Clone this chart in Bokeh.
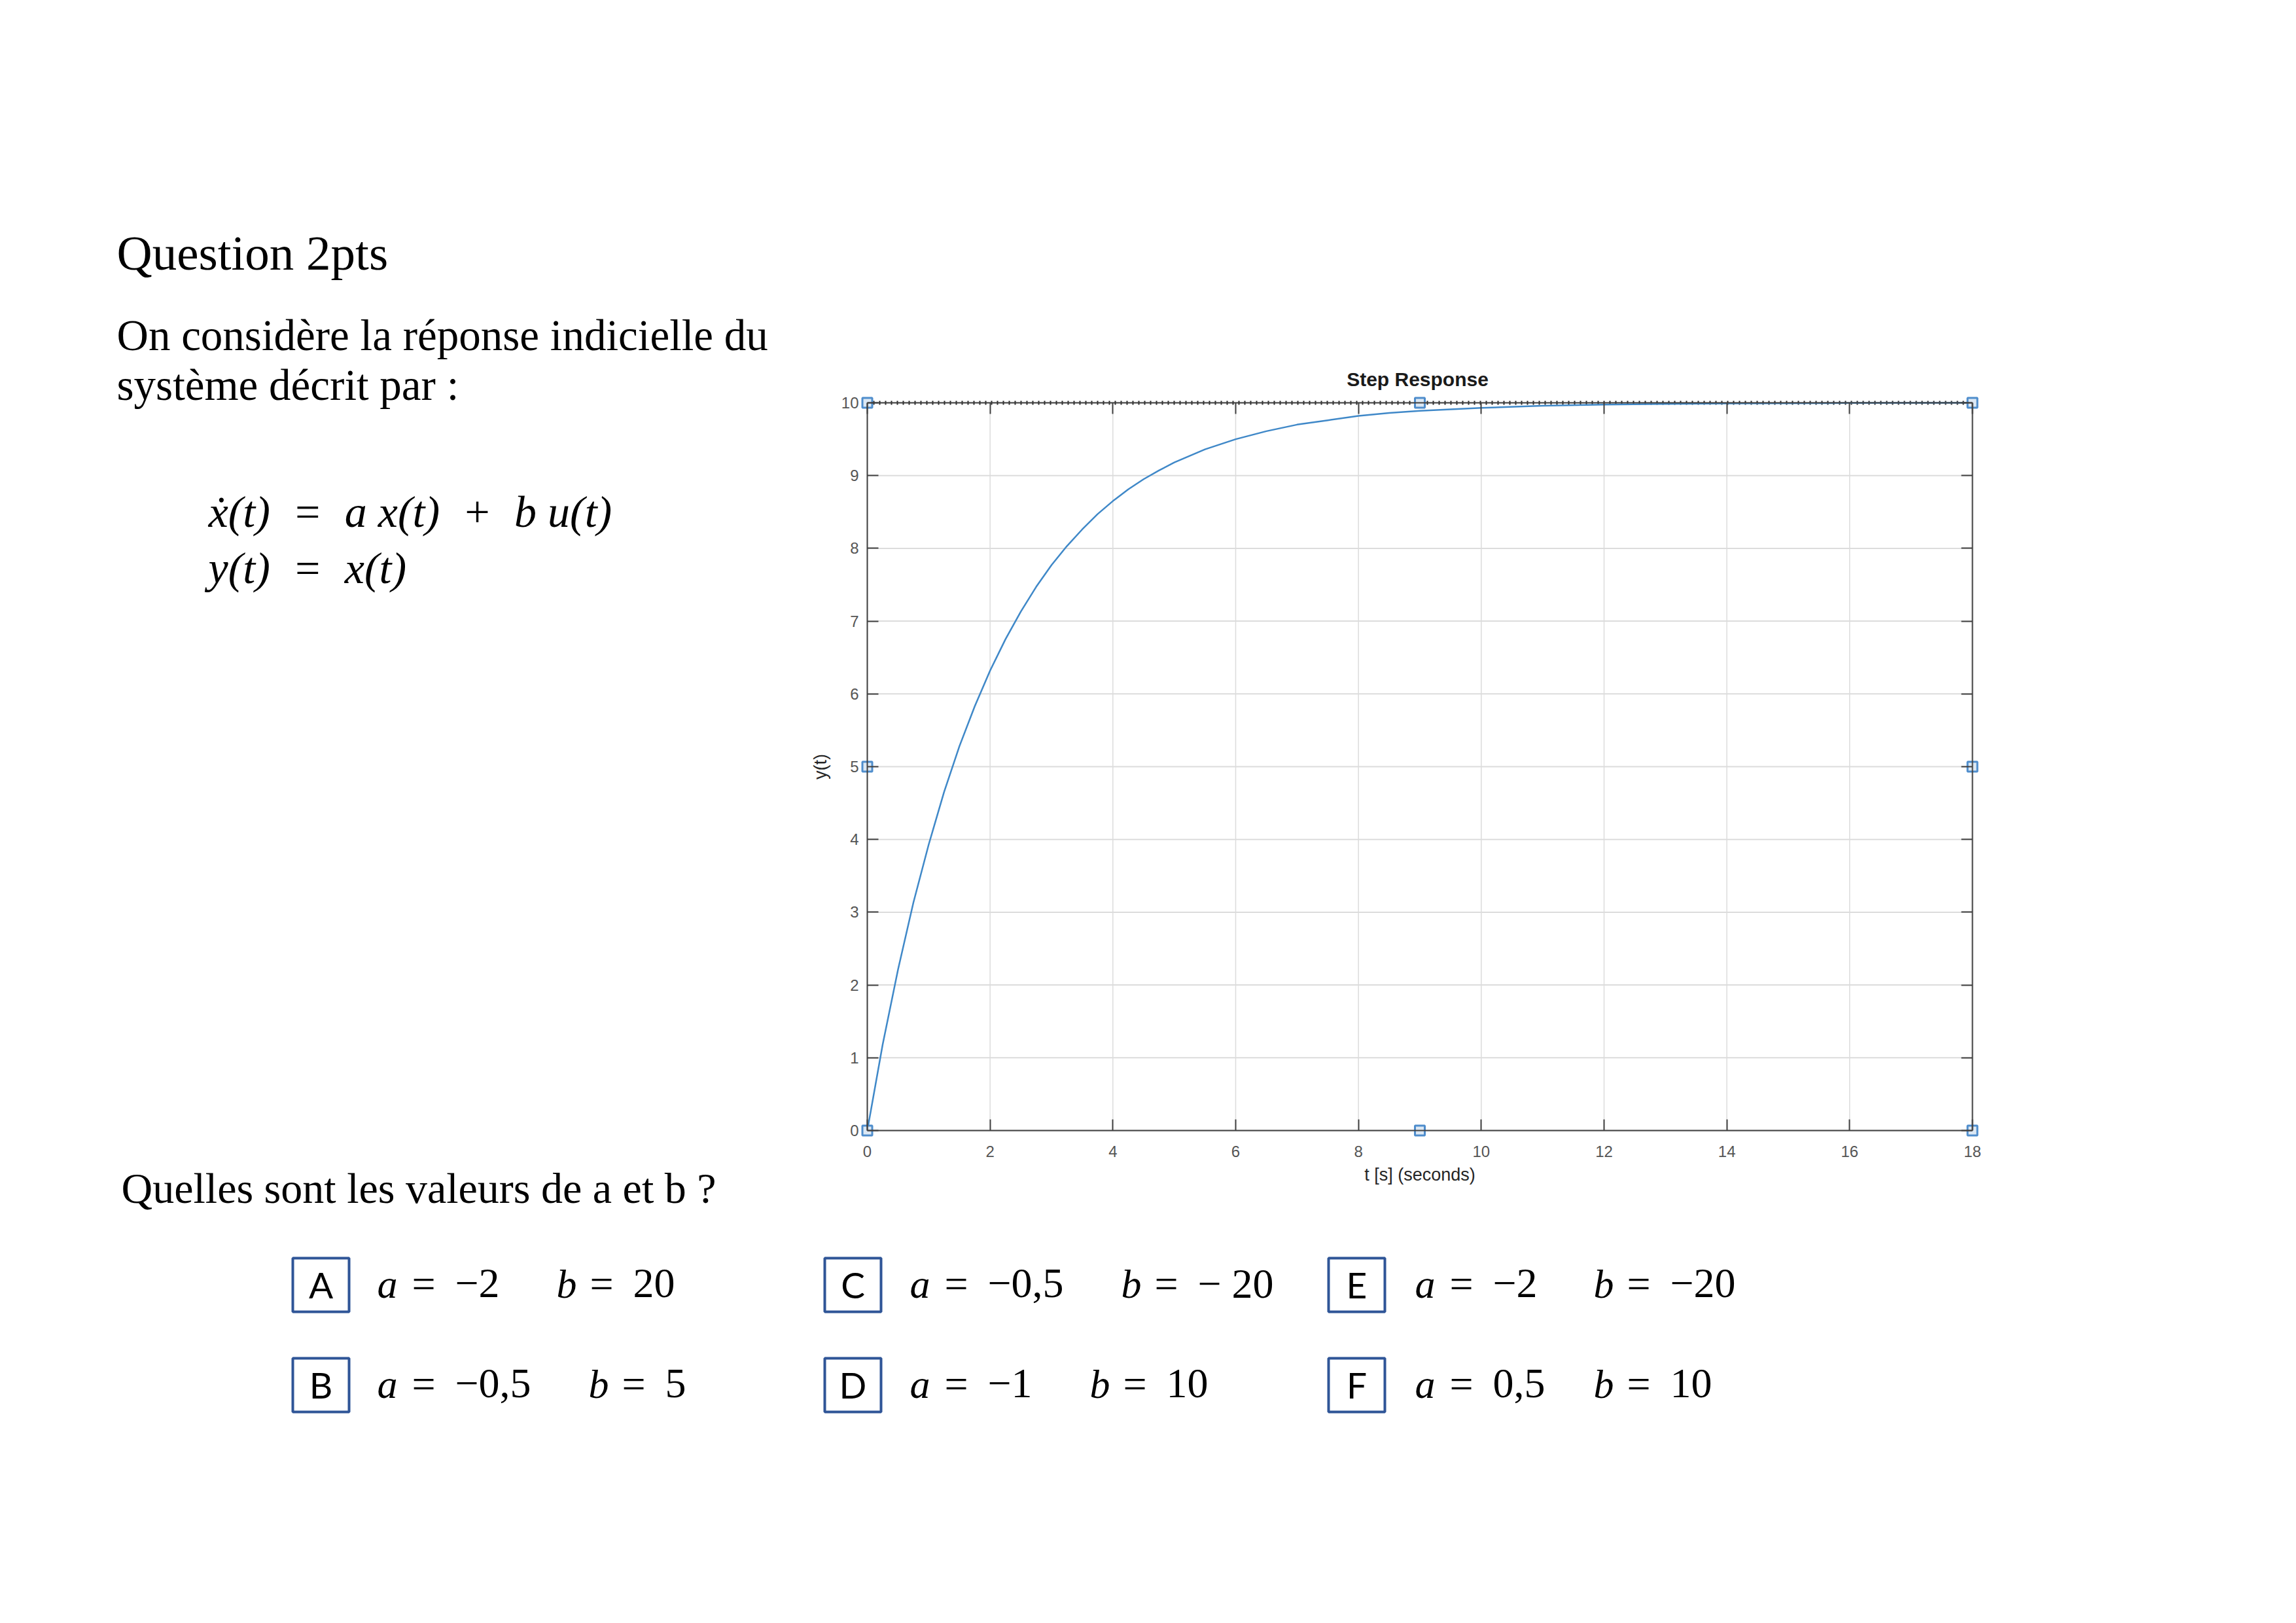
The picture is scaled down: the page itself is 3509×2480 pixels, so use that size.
from bokeh.plotting import figure
from bokeh.models import Range1d, LinearAxis, Label, BoxAnnotation, FixedTicker
from bokeh.embed import file_html
from bokeh.resources import INLINE

# ---------------- data ----------------
t_values = [0, 0.25, 0.5, 0.75, 1.0, 1.25, 1.5, 1.75, 2.0, 2.25, 2.5, 2.75, 3.0,
            3.25, 3.5, 3.75, 4.0, 4.25, 4.5, 4.75, 5.0, 5.5, 6.0, 6.5, 7.0, 7.5,
            8.0, 8.5, 9.0, 9.5, 10, 11, 12, 13, 14, 16, 18]
y_values = [0, 1.18, 2.21, 3.13, 3.93, 4.65, 5.28, 5.83, 6.32, 6.75, 7.13, 7.47, 7.77,
            8.03, 8.26, 8.47, 8.65, 8.81, 8.95, 9.07, 9.18, 9.36, 9.5, 9.61, 9.7, 9.76,
            9.82, 9.86, 9.89, 9.91, 9.93, 9.96, 9.975, 9.985, 9.99, 9.997, 10.0]
final_value = 10.0
x_ticks = [0, 2, 4, 6, 8, 10, 12, 14, 16, 18]
y_ticks = [0, 1, 2, 3, 4, 5, 6, 7, 8, 9, 10]
handle_t = [0, 0, 0, 9, 18, 18, 18, 9]
handle_y = [0, 5, 10, 10, 10, 5, 0, 0]

title_text = "Step Response"
x_label = "t [s] (seconds)"
y_label = "y(t)"
heading = "Question 2pts"
intro_lines = ["On considère la réponse indicielle du", "système décrit par :"]
NB = "\u00a0"
equations = ["ẋ(t)" + NB * 2 + "=" + NB * 2 + "a" + NB + "x(t)" + NB * 2 + "+" + NB * 2 + "b" + NB + "u(t)",
             "y(t)" + NB * 2 + "=" + NB * 2 + "x(t)"]
question = "Quelles sont les valeurs de a et b ?"
option_letters = ["A", "B", "C", "D", "E", "F"]
option_a = ["−2", "−0,5", "−0,5", "−1", "−2", "0,5"]
option_b = ["20", "5", "−" + NB + "20", "10", "−20", "10"]

# ---------------- page geometry ----------------
W, H = 3493, 2464
FL, FR, FT, FB = 1325, 3014, 615, 1727   # chart box on the page (px)
x0, x1 = x_ticks[0], x_ticks[-1]
y0, y1 = y_ticks[0], y_ticks[-1]
KX = (FR - FL) / (x1 - x0)
KY = (FB - FT) / (y1 - y0)

p = figure(width=W, height=H,
           x_range=Range1d(x0 - FL / KX, x0 + (W - FL) / KX),
           y_range=Range1d(y0 - (H - FB) / KY, y0 + FB / KY),
           x_axis_location=None, y_axis_location=None, title_location=None,
           output_backend="svg", toolbar_location=None, min_border=0)
p.extra_x_ranges = {"page": Range1d(0, W)}
p.extra_y_ranges = {"page": Range1d(H, 0)}
p.grid.visible = False
p.outline_line_color = None
p.background_fill_color = "white"
p.border_fill_color = "white"

AX = "#404040"


def make_axis(ticks, bounds, loc, labels=True):
    ax = LinearAxis(fixed_location=loc, bounds=bounds)
    ax.ticker = FixedTicker(ticks=ticks)
    ax.axis_line_color = AX
    ax.axis_line_width = 2
    ax.major_tick_in = 17
    ax.major_tick_out = 0
    ax.major_tick_line_color = AX
    ax.major_tick_line_width = 2
    ax.minor_tick_line_color = None
    ax.major_label_text_font = "Liberation Sans"
    ax.major_label_text_font_size = "24px"
    ax.major_label_text_color = "#555555"
    ax.axis_label_text_font = "Liberation Sans"
    ax.axis_label_text_font_size = "27px"
    ax.axis_label_text_font_style = "normal"
    ax.axis_label_text_color = "#262626"
    if not labels:
        ax.major_label_overrides = {v: "" for v in ticks}
    return ax


# grid (drawn from the tick arrays)
p.segment(x0=x_ticks, y0=[y0] * len(x_ticks), x1=x_ticks, y1=[y1] * len(x_ticks),
          line_color="#dcdcdc", line_width=1.5)
p.segment(x0=[x0] * len(y_ticks), y0=y_ticks, x1=[x1] * len(y_ticks), y1=y_ticks,
          line_color="#dcdcdc", line_width=2)

# final value dotted line
p.line([t_values[0], t_values[-1]], [final_value, final_value],
       line_color="#222222", line_dash="2 7", line_width=6)
# response
p.line(t_values, y_values, line_color="#3f88c8", line_width=2.5)

xb = make_axis(x_ticks, (x0, x1), y0)
xb.major_label_standoff = 23
xb.axis_label = x_label
xb.axis_label_standoff = 9
p.add_layout(xb, "below")

yl = make_axis(y_ticks, (y0, y1), x0)
yl.major_label_standoff = 13
yl.axis_label = y_label
yl.axis_label_standoff = 14
p.add_layout(yl, "left")

xt = make_axis(x_ticks, (x0, x1), y1, labels=False)
p.add_layout(xt, "above")
yr = make_axis(y_ticks, (y0, y1), x1, labels=False)
p.add_layout(yr, "right")

# selection handles
p.scatter(handle_t, handle_y, marker="square", size=15, line_color="#4f8dcc",
          line_width=3, fill_color="#dce8f4")

SHIFT = 0.35   # baseline correction, in em


def lab(text, px, py, size, font="Liberation Serif", style="normal",
        color="black", align="left"):
    p.add_layout(Label(x=px, y=py - SHIFT * size, x_range_name="page",
                       y_range_name="page", text=text, text_font=font,
                       text_font_size=f"{size}px", text_font_style=style,
                       text_color=color, text_align=align,
                       text_baseline="alphabetic"))


lab(title_text, 2166, 589, 30, font="Liberation Sans", style="bold",
    color="#1a1a1a", align="center")

lab(heading, 178, 412, 75)
for i, line in enumerate(intro_lines):
    lab(line, 178, 535 + 76 * i, 67)
for i, eq in enumerate(equations):
    lab(eq, 318, 805 + 86 * i, 68, style="italic")
lab(question, 185, 1838, 66)

opt_xa = [576, 576, 1390, 1390, 2162, 2162]
opt_xb = [850, 899, 1713, 1665, 2435, 2435]
opt_base = [1983, 2136, 1983, 2136, 1983, 2136]
box_cx = [490, 490, 1303, 1303, 2073, 2073]
box_top = [1922, 2075, 1922, 2075, 1922, 2075]
for i, letter in enumerate(option_letters):
    p.add_layout(BoxAnnotation(left=box_cx[i] - 43, right=box_cx[i] + 43,
                               top=box_top[i], bottom=box_top[i] + 82,
                               x_range_name="page", y_range_name="page",
                               fill_color=None, line_color="#2f5597",
                               line_alpha=1.0, line_width=4))
    lab(letter, box_cx[i], opt_base[i] - 1, 55, font="Lato", align="center")
    lab("a", opt_xa[i], opt_base[i], 62, style="italic")
    lab("=", opt_xa[i] + 53, opt_base[i], 64)
    lab(option_a[i], opt_xa[i] + 119, opt_base[i], 64)
    lab("b", opt_xb[i], opt_base[i], 62, style="italic")
    lab("=", opt_xb[i] + 51, opt_base[i], 64)
    lab(option_b[i], opt_xb[i] + 117, opt_base[i], 64)

open("out.html", "w").write(file_html(p, INLINE))
